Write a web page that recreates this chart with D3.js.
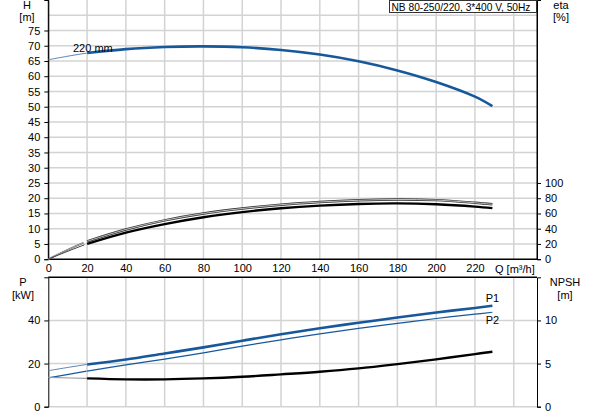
<!DOCTYPE html>
<html>
<head>
<meta charset="utf-8">
<script src="https://cdn.jsdelivr.net/npm/d3@7"></script>
<style>
    body { margin: 0; background: #fff; }
    svg { font-family: "Liberation Sans", Arial, sans-serif; font-size: 11px; }
    .grid line { stroke: #d3d3d3; stroke-width: 1.5; }
    .axis path, .axis line { stroke: #000; }
    .axis text { fill: #000; font-size: 11px; }
</style>
</head>
<body>
<svg id="chart" width="593" height="415"></svg>
<script>
// Data (Q in m3/h)
var flowQ = [0, 20, 40, 60, 80, 100, 120, 140, 160, 180, 200, 220, 229];
var headH = [65.4, 67.6, 68.9, 69.6, 69.8, 69.5, 68.6, 67.1, 64.9, 61.9, 58.1, 53.3, 50.2];
var etaPump = [0, 23.5, 39, 51, 60, 66.5, 71.5, 75, 77.3, 78.3, 77.5, 74, 72];
var etaTotal = [0, 20, 34.8, 46, 55, 61.8, 66.8, 70.3, 72.5, 73.2, 72, 69, 67];
var powerP1 = [16.7, 19.6, 21.9, 24.7, 27.5, 30.6, 33.6, 36.4, 38.9, 41.4, 43.7, 45.8, 46.8];
var powerP2 = [13.4, 16.5, 19.4, 22.1, 25, 28.1, 31, 33.8, 36.3, 38.6, 40.9, 42.9, 43.8];
var npsh = [3.4, 3.28, 3.17, 3.17, 3.28, 3.47, 3.75, 4.05, 4.44, 4.94, 5.49, 6.1, 6.37];

var qTicks = [0, 20, 40, 60, 80, 100, 120, 140, 160, 180, 200, 220];
var qGrid = [20, 40, 60, 80, 100, 120, 140, 160, 180, 200, 220, 240];
var hTicks = [0, 5, 10, 15, 20, 25, 30, 35, 40, 45, 50, 55, 60, 65, 70, 75];
var hGrid = [5, 10, 15, 20, 25, 30, 35, 40, 45, 50, 55, 60, 65, 70, 75, 80];
var etaTicks = [0, 20, 40, 60, 80, 100];
var pTicks = [0, 20, 40];
var npshTicks = [0, 5, 10];

var title = 'NB 80-250/220, 3*400 V, 50Hz';
var minFlow = 20;
var blue = '#17589b';

var svg = d3.select('#chart');

// Scales
var x = d3.scaleLinear().domain([0, 252]).range([48.3, 537]);
var yH = d3.scaleLinear().domain([0, 85]).range([259.2, 0]);
var yEta = d3.scaleLinear().domain([0, 340]).range([259.2, 0]);
var yP = d3.scaleLinear().domain([0, 60]).range([406.7, 277.3]);
var yNpsh = d3.scaleLinear().domain([0, 15]).range([406.7, 277.3]);

function pts(values) {
    return flowQ.map(function (q, i) { return { q: q, v: values[i] }; });
}

// draws the curve thin below min flow and thick above it
function curve(values, yScale, color, thinColor, width, thinWidth) {
    var line = d3.line()
        .curve(d3.curveCatmullRom)
        .x(function (d) { return x(d.q); })
        .y(function (d) { return yScale(d.v); });
    var data = pts(values);
    svg.append('path')
        .datum(data.filter(function (d) { return d.q <= minFlow + 20; }))
        .attr('d', line)
        .attr('fill', 'none')
        .attr('stroke', thinColor)
        .attr('stroke-width', thinWidth)
        .attr('stroke-dasharray', (x(minFlow) - x(0)) + ',1000');
    return svg.append('path')
        .datum(data.filter(function (d) { return d.q >= minFlow; }))
        .attr('d', line)
        .attr('fill', 'none')
        .attr('stroke', color)
        .attr('stroke-width', width);
}

// Grid top
var gTop = svg.append('g').attr('class', 'grid');
gTop.selectAll('.v').data(qGrid).enter().append('line')
    .attr('x1', function (d) { return x(d); }).attr('x2', function (d) { return x(d); })
    .attr('y1', 0).attr('y2', yH(0));
gTop.selectAll('.h').data(hGrid).enter().append('line')
    .attr('x1', x(0)).attr('x2', 537)
    .attr('y1', function (d) { return yH(d); }).attr('y2', function (d) { return yH(d); });

// Grid bottom
var gBot = svg.append('g').attr('class', 'grid');
gBot.selectAll('.v').data(qGrid).enter().append('line')
    .attr('x1', function (d) { return x(d); }).attr('x2', function (d) { return x(d); })
    .attr('y1', yP(60)).attr('y2', yP(0));
gBot.selectAll('.h').data(pTicks).enter().append('line')
    .attr('x1', x(0)).attr('x2', 537)
    .attr('y1', function (d) { return yP(d); }).attr('y2', function (d) { return yP(d); });

// Axes top chart
svg.append('g').attr('class', 'axis')
    .attr('transform', 'translate(' + x(0) + ',0)')
    .call(d3.axisLeft(yH).tickValues(hTicks).tickSizeOuter(0).tickSize(4).tickPadding(4));
svg.append('g').attr('class', 'axis')
    .attr('transform', 'translate(537,0)')
    .call(d3.axisRight(yEta).tickValues(etaTicks).tickSizeOuter(0).tickSize(4).tickPadding(4));
svg.append('line').attr('x1', 537).attr('x2', 537).attr('y1', 0).attr('y2', yH(0)).attr('stroke', '#000');
svg.append('line').attr('x1', x(0)).attr('x2', x(0)).attr('y1', 0).attr('y2', yH(0)).attr('stroke', '#000');
var xAxis = svg.append('g').attr('class', 'axis')
    .attr('transform', 'translate(0,' + yH(0) + ')')
    .call(d3.axisBottom(x).tickValues(qTicks).tickSize(0).tickPadding(5));
xAxis.select('.domain').remove();
svg.append('line').attr('x1', x(0)).attr('x2', 537).attr('y1', yH(0)).attr('y2', yH(0))
    .attr('stroke', '#000').attr('stroke-width', 1.5);

// Axes bottom chart
svg.append('g').attr('class', 'axis')
    .attr('transform', 'translate(' + x(0) + ',0)')
    .call(d3.axisLeft(yP).tickValues(pTicks).tickSizeOuter(0).tickSize(4).tickPadding(4));
svg.append('g').attr('class', 'axis')
    .attr('transform', 'translate(537,0)')
    .call(d3.axisRight(yNpsh).tickValues(npshTicks).tickSizeOuter(0).tickSize(4).tickPadding(4));
svg.append('line').attr('x1', x(0)).attr('x2', 537).attr('y1', yP(60)).attr('y2', yP(60))
    .attr('stroke', '#000').attr('stroke-width', 1.5);

// Curves
curve(headH, yH, blue, '#5d84b3', 2.6, 1);
curve(etaPump, yEta, '#333', '#555', 2.4, 1.6);
curve(etaPump, yEta, '#d0d0d0', '#e6e6e6', 0.9, 0.6);
curve(etaTotal, yEta, '#000', '#444', 2.4, 1);
curve(powerP1, yP, blue, '#5d84b3', 2.6, 1);
curve(powerP2, yP, blue, blue, 1.2, 1.2);
curve(npsh, yNpsh, '#000', '#999', 2.4, 1.2);

// Labels
function label(txt, lx, ly, anchor) {
    return svg.append('text').attr('x', lx).attr('y', ly)
        .attr('text-anchor', anchor || 'middle').attr('font-size', 11).text(txt);
}
label('H', 27, 9);
label('[m]', 27, 21);
label('eta', 561, 9);
label('[%]', 561, 21);
label('P', 23, 286);
label('[kW]', 23, 299);
label('NPSH', 565, 286);
label('[m]', 565, 299);
label('Q [m³/h]', 495, yH(0) + 14, 'start');
label('220 mm', 73, 52, 'start');
label('P1', x(229), yP(powerP1[12]) - 4);
label('P2', x(229), yP(powerP2[12]) + 12);

// Title box
svg.append('rect').attr('x', 389.5).attr('y', 0.5).attr('width', 147).attr('height', 12)
    .attr('fill', '#fff').attr('stroke', '#333');
label(title, 391.5, 10.5, 'start').attr('font-size', 10.2);
</script>
</body>
</html>
